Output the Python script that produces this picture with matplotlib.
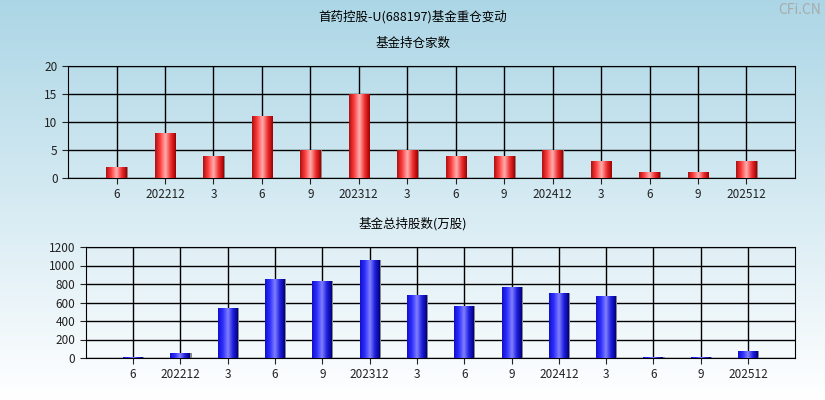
import matplotlib
matplotlib.use("Agg")
import matplotlib.pyplot as plt
import numpy as np
from matplotlib.colors import LinearSegmentedColormap

plt.rcParams['font.family'] = ['Noto Sans CJK SC', 'DejaVu Sans']

labels = ["6", "202212", "3", "6", "9", "202312", "3", "6", "9", "202412", "3", "6", "9", "202512"]
fund_counts = [2, 8, 4, 11, 5, 15, 5, 4, 4, 5, 3, 1, 1, 3]
fund_shares = [12, 55, 540, 850, 830, 1060, 680, 560, 770, 700, 670, 10, 10, 75]

fig = plt.figure(figsize=(8.25, 4.0), dpi=100)
bg = fig.add_axes([0, 0, 1, 1], zorder=-10)
grad = np.linspace(0, 1, 256).reshape(-1, 1)
bgcmap = LinearSegmentedColormap.from_list("bg", ["#acd6e6", "#ffffff"])
bg.imshow(grad, aspect='auto', cmap=bgcmap, extent=[0, 1, 0, 1])
bg.axis('off')

red_cmap = LinearSegmentedColormap.from_list("r", ["#b01010", "#ff4040", "#ffb0b0", "#f03030", "#a00000"])
blue_cmap = LinearSegmentedColormap.from_list("b", ["#1010d0", "#3030ff", "#8080ff", "#2020e0", "#000080"])

def draw(ax, vals, cmap, ylim, yticks):
    x = np.arange(1, len(vals) + 1)
    ax.set_facecolor('none')
    ax.set_xlim(0, len(vals) + 1)
    ax.set_ylim(*ylim)
    ax.set_yticks(yticks)
    ax.set_xticks(x)
    ax.set_xticklabels(labels)
    ax.grid(True, color='black', linewidth=1)
    ax.set_axisbelow(True)
    bars = ax.bar(x, vals, width=0.42, color='none', zorder=3)
    hg = np.linspace(0, 1, 64).reshape(1, -1)
    for b in bars:
        x0, w, h = b.get_x(), b.get_width(), b.get_height()
        ax.bar(x0 + w / 2 + 0.025, h, width=w, color='#888888', zorder=2)
        im = ax.imshow(hg, aspect='auto', cmap=cmap, extent=[x0, x0 + w, 0, h], zorder=3)
        im.set_clip_path(b)
    ax.set_xlim(0, len(vals) + 1)
    ax.set_ylim(*ylim)
    ax.tick_params(labelsize=8.5, colors='#222222', length=4)
    for s in ax.spines.values():
        s.set_color('black')

ax1 = fig.add_axes([0.0825, 0.555, 0.881, 0.28])
draw(ax1, fund_counts, red_cmap, (0, 20), [0, 5, 10, 15, 20])
ax2 = fig.add_axes([0.104, 0.105, 0.86, 0.2775])
draw(ax2, fund_shares, blue_cmap, (0, 1200), list(range(0, 1201, 200)))

fig.text(0.5, 0.957, "首药控股-U(688197)基金重仓变动", ha='center', va='center', fontsize=9)
fig.text(0.5, 0.892, "基金持仓家数", ha='center', va='center', fontsize=9)
fig.text(0.5, 0.44, "基金总持股数(万股)", ha='center', va='center', fontsize=9)
fig.text(0.995, 0.975, "CFi.CN", ha='right', va='center', fontsize=10, color='#aaaaaa')

fig.savefig("out.png", dpi=100)
